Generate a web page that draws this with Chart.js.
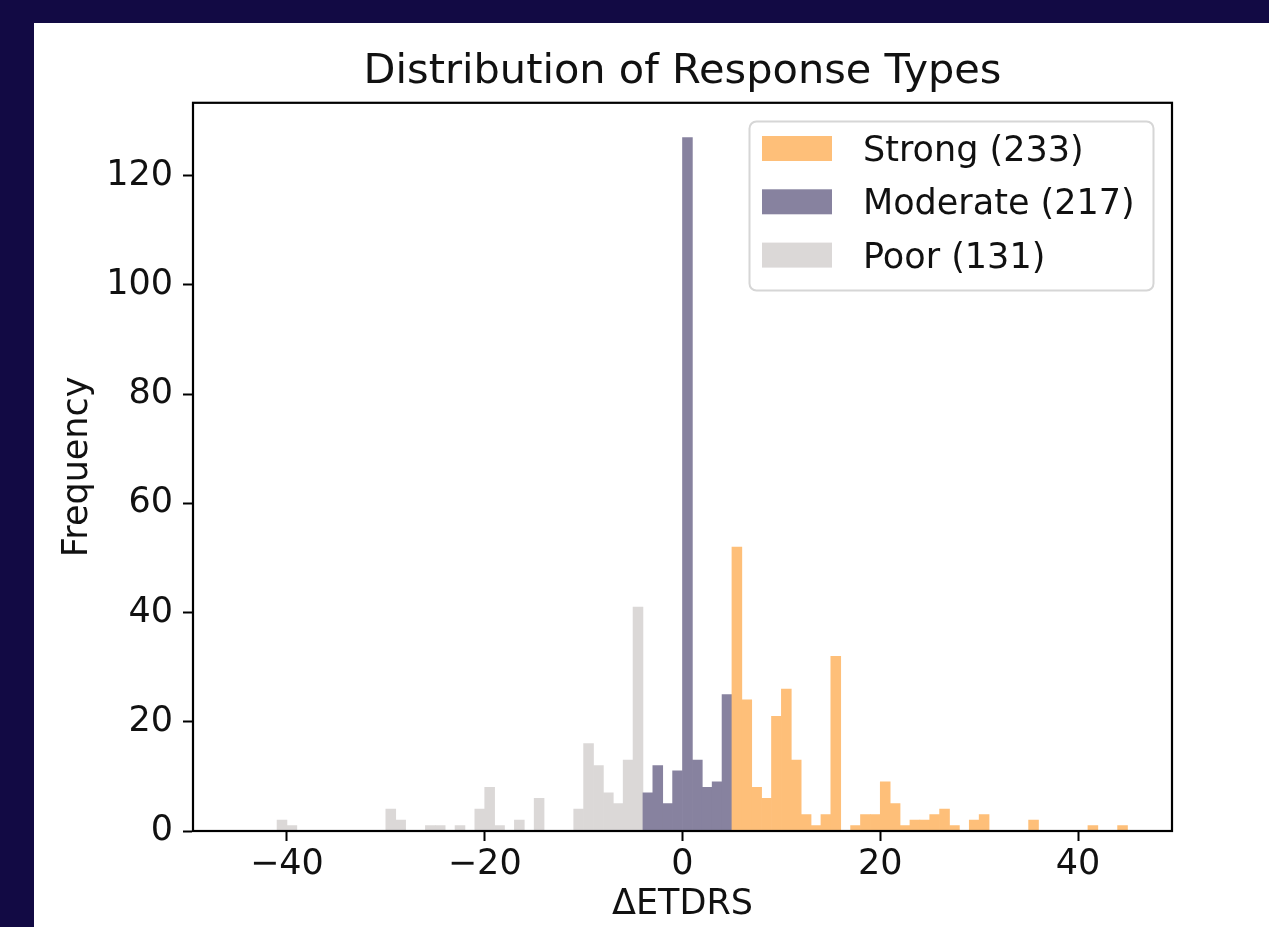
<!DOCTYPE html>
<html><head><meta charset="utf-8">
<script src="https://cdn.jsdelivr.net/npm/chart.js@4"></script>
<style>
html,body{margin:0;padding:0;background:#120a44;overflow:hidden}
#wrap{position:absolute;left:0;top:0;width:1269px;height:927px}
</style></head>
<body><div id="wrap"><canvas id="c" width="1269" height="927"></canvas></div>
<script>
// ---- data (histogram bins of width 1, keyed by left bin edge) ----
const seriesNames = ['Strong (233)', 'Moderate (217)', 'Poor (131)'];
const seriesColors = ['#FEBF79', '#87829F', '#DBD8D7'];

const strongStart = 5;
const strongCounts = [52, 24, 8, 6, 21, 26, 13, 3, 1, 3, 32, 0, 1, 3, 3, 9, 5, 1, 2, 2, 3, 4, 1, 0, 2, 3, 0, 0, 0, 0, 2, 0, 0, 0, 0, 0, 1, 0, 0, 1];

const moderateStart = -4;
const moderateCounts = [7, 12, 5, 11, 127, 13, 8, 9, 25];

const poorStart = -41;
const poorCounts = [2, 1, 0, 0, 0, 0, 0, 0, 0, 0, 0, 4, 2, 0, 0, 1, 1, 0, 1, 0, 4, 8, 1, 0, 2, 0, 6, 0, 0, 0, 4, 16, 12, 7, 5, 13, 41];

const xTickValues = [-40, -20, 0, 20, 40];
const yTickValues = [0, 20, 40, 60, 80, 100, 120];

const titleText = 'Distribution of Response Types';
const xTitle = '\u0394ETDRS';
const yTitle = 'Frequency';

function toBars(start, counts) {
  return counts.map((c, i) => ({ x: start + i + 0.5, y: c }));
}

const FONT = 'DejaVu Sans';
const FS = 35;

const bgPlugin = {
  id: 'bg',
  beforeDraw(chart) {
    const ctx = chart.ctx;
    ctx.save();
    ctx.fillStyle = '#120a44';
    ctx.fillRect(0, 0, chart.width, chart.height);
    ctx.fillStyle = '#ffffff';
    ctx.fillRect(34, 23, chart.width - 34, chart.height - 23);
    ctx.restore();
  }
};

const framePlugin = {
  id: 'frame',
  afterDatasetsDraw(chart) {
    const { ctx, chartArea: a } = chart;
    ctx.save();
    ctx.strokeStyle = '#000';
    ctx.lineWidth = 2.2;
    ctx.strokeRect(a.left, a.top, a.right - a.left, a.bottom - a.top);
    // legend box
    const lx = 749.5, ly = 121.5, lw = 404, lh = 169, r = 7;
    ctx.beginPath();
    ctx.moveTo(lx + r, ly);
    ctx.arcTo(lx + lw, ly, lx + lw, ly + lh, r);
    ctx.arcTo(lx + lw, ly + lh, lx, ly + lh, r);
    ctx.arcTo(lx, ly + lh, lx, ly, r);
    ctx.arcTo(lx, ly, lx + lw, ly, r);
    ctx.closePath();
    ctx.fillStyle = 'rgba(255,255,255,0.8)';
    ctx.fill();
    ctx.strokeStyle = '#d6d6d6';
    ctx.lineWidth = 2;
    ctx.stroke();
    ctx.font = FS + 'px "' + FONT + '"';
    ctx.textBaseline = 'middle';
    ctx.textAlign = 'left';
    chart.data.datasets.forEach((ds, i) => {
      const y = 136 + i * 53.3;
      ctx.fillStyle = ds.backgroundColor;
      ctx.fillRect(762, y, 70, 25);
      ctx.fillStyle = '#111';
      ctx.fillText(ds.label, 863, y + 16);
    });
    ctx.restore();
  }
};

const fmt = v => (v < 0 ? '\u2212' + (-v) : String(v));

new Chart(document.getElementById('c'), {
  type: 'bar',
  data: {
    datasets: [
      { label: seriesNames[0], data: toBars(strongStart, strongCounts), backgroundColor: seriesColors[0] },
      { label: seriesNames[1], data: toBars(moderateStart, moderateCounts), backgroundColor: seriesColors[1] },
      { label: seriesNames[2], data: toBars(poorStart, poorCounts), backgroundColor: seriesColors[2] }
    ]
  },
  options: {
    responsive: false,
    devicePixelRatio: 1,
    animation: false,
    datasets: { bar: { grouped: false, barPercentage: 1, categoryPercentage: 1, borderWidth: 0 } },
    layout: { padding: { left: 50, top: 47, right: 97, bottom: 0 } },
    plugins: {
      legend: { display: false },
      tooltip: { enabled: false },
      title: {
        display: true, text: titleText, color: '#111', fullSize: false,
        font: { family: FONT, size: 41.5, weight: 'normal' },
        padding: { top: 0, bottom: 6 }
      }
    },
    scales: {
      x: {
        type: 'linear', min: -49.5, max: 49.5, offset: false,
        afterBuildTicks: s => { s.ticks = xTickValues.map(v => ({ value: v })); },
        afterFit: s => { s.height = 96; },
        ticks: { callback: fmt, color: '#111', font: { family: FONT, size: FS }, padding: 3, maxRotation: 0, autoSkip: false },
        grid: { offset: false, drawOnChartArea: false, drawTicks: true, tickLength: 10, tickWidth: 2, tickColor: '#000' },
        border: { display: true, color: '#000', width: 2 },
        title: { display: true, text: xTitle, color: '#111', font: { family: FONT, size: FS }, padding: { top: 0, bottom: 1 } }
      },
      y: {
        type: 'linear', min: 0, max: 133.35,
        afterBuildTicks: s => { s.ticks = yTickValues.map(v => ({ value: v })); },
        afterFit: s => { s.width = 143; },
        ticks: { callback: fmt, color: '#111', font: { family: FONT, size: FS }, padding: 10 },
        grid: { offset: false, drawOnChartArea: false, drawTicks: true, tickLength: 10, tickWidth: 2, tickColor: '#000' },
        border: { display: true, color: '#000', width: 2 },
        title: { display: true, text: yTitle, color: '#111', font: { family: FONT, size: FS }, padding: { top: 7, bottom: 0 } }
      }
    }
  },
  plugins: [bgPlugin, framePlugin]
});
</script>
</body></html>
